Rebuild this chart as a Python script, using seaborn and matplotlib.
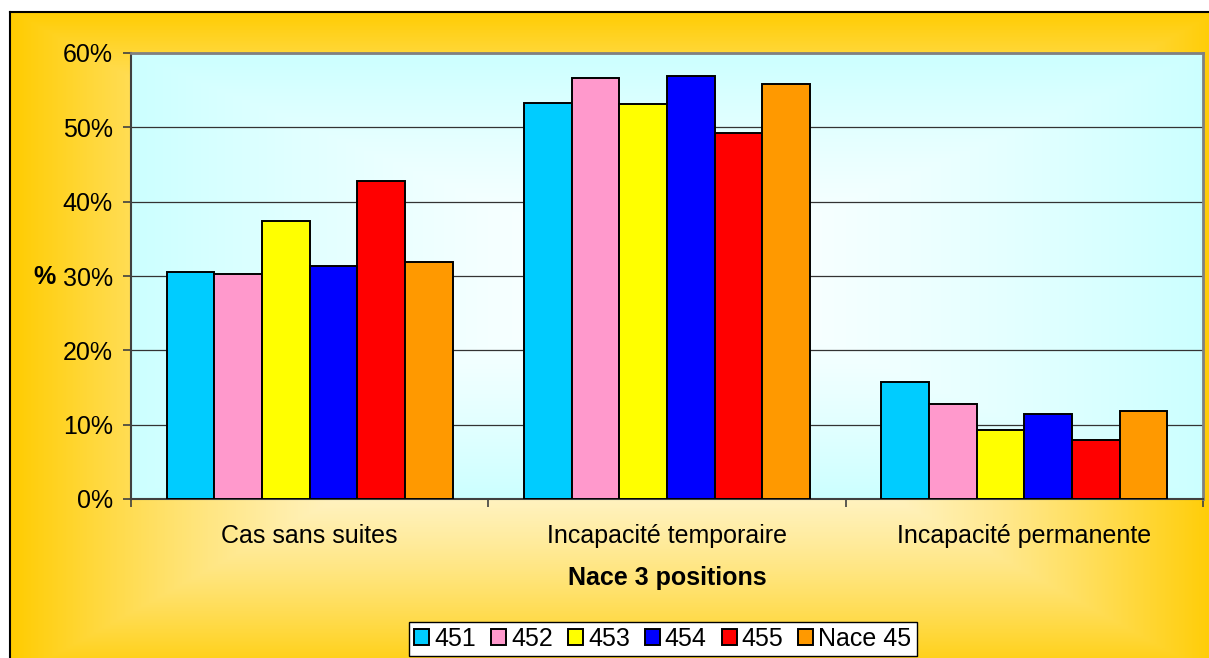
import numpy as np
import pandas as pd
import matplotlib
matplotlib.use("Agg")
import matplotlib.pyplot as plt
from matplotlib.patches import Patch
import seaborn as sns

sns.set_theme(style="white")
plt.rcParams["font.family"] = ["Liberation Sans", "DejaVu Sans"]
plt.rcParams["text.color"] = "black"
plt.rcParams["xtick.color"] = "black"
plt.rcParams["ytick.color"] = "black"

# Data (% of cases by consequence, per NACE 3-digit position)
categories = ["Cas sans suites", "Incapacité temporaire", "Incapacité permanente"]
series = ["451", "452", "453", "454", "455", "Nace 45"]
v451 = [30.6, 53.3, 15.7]
v452 = [30.3, 56.6, 12.8]
v453 = [37.4, 53.1, 9.3]
v454 = [31.4, 56.9, 11.4]
v455 = [42.8, 49.2, 7.9]
vnace45 = [31.9, 55.8, 11.8]
colors = ["#00CCFF", "#FF99CC", "#FFFF00", "#0000FF", "#FF0000", "#FF9900"]
ytick_values = [0, 10, 20, 30, 40, 50, 60]

values = [v451, v452, v453, v454, v455, vnace45]
df = pd.DataFrame(
    [(cat, s, vals[i]) for s, vals in zip(series, values) for i, cat in enumerate(categories)],
    columns=["categorie", "code", "pct"],
)

FS = 18
W, H = 1209, 658
fig = plt.figure(figsize=(W / 100, H / 100), dpi=100)
fig.patch.set_facecolor("white")

# Chart-area background: gold, lightening towards the centre
bg = fig.add_axes([10 / W, 0, 1 - 10 / W, 1 - 12 / H], zorder=0)
xs = np.linspace(10, W, 600)
ys = np.linspace(12, H, 330)
X, Y = np.meshgrid(xs, ys)
t = np.maximum(np.abs(X - 615) / 605, np.abs(Y - 345) / 335)
f = np.clip(t, 0, 1) ** 1.8
white = np.array([1.0, 1.0, 1.0])
gold = np.array([255, 204, 0]) / 255
img = white[None, None, :] * (1 - f[..., None]) + gold[None, None, :] * f[..., None]
bg.imshow(img, extent=(0, 1, 0, 1), aspect="auto", origin="upper")
bg.set_xlim(0, 1)
bg.set_ylim(0, 1)
bg.set_xticks([])
bg.set_yticks([])
for side in ["right", "bottom"]:
    bg.spines[side].set_visible(False)
for side in ["left", "top"]:
    bg.spines[side].set_color("black")
    bg.spines[side].set_linewidth(1.5)

# Plot area
ax = fig.add_axes([131 / W, 1 - 499 / H, (1203 - 131) / W, (499 - 53) / H], zorder=1)
u = np.linspace(-1, 1, 400)
v = np.linspace(-1, 1, 200)
U, V = np.meshgrid(u, v)
t2 = np.maximum(np.abs(U), np.abs(V))
f2 = t2 ** 1.4
cyan = np.array([204, 255, 255]) / 255
img2 = white[None, None, :] * (1 - f2[..., None]) + cyan[None, None, :] * f2[..., None]
ax.imshow(img2, extent=(-0.5, 2.5, 0, 60), aspect="auto", zorder=0)

sns.barplot(
    data=df, x="categorie", y="pct", hue="code",
    order=categories, hue_order=series, palette=colors, saturation=1,
    edgecolor="black", linewidth=1.4, width=0.8, ax=ax, zorder=3,
)
if ax.get_legend() is not None:
    ax.get_legend().remove()

ax.set_xlim(-0.5, 2.5)
ax.set_ylim(0, 60)
ax.set_axisbelow(True)
ax.yaxis.grid(True, color="#333333", linewidth=0.9)
ax.xaxis.grid(False)
ax.set_yticks(ytick_values)
ax.set_yticklabels([f"{y}%" for y in ytick_values])
ax.set_xticks(range(len(categories)))
ax.set_xticklabels(categories)
ax.set_xticks([-0.5, 0.5, 1.5, 2.5], minor=True)
ax.tick_params(axis="x", which="major", length=0, pad=18, labelsize=FS, labelcolor="black")
ax.tick_params(axis="x", which="minor", length=6, width=1.2, direction="out",
               color="#404040", bottom=True)
ax.tick_params(axis="y", which="major", length=6, width=1.2, direction="out",
               color="#404040", pad=7, labelsize=FS, labelcolor="black", left=True)
ax.set_xlabel("")
ax.set_ylabel("")
for side in ["left", "bottom"]:
    ax.spines[side].set_color("#404040")
    ax.spines[side].set_linewidth(1.5)
for side in ["top", "right"]:
    ax.spines[side].set_color("#808080")
    ax.spines[side].set_linewidth(2)

fig.text(44 / W, 1 - 277 / H, "%", fontsize=FS, fontweight="bold",
         ha="center", va="center", color="black")
fig.text(667 / W, 1 - 578 / H, "Nace 3 positions", fontsize=FS,
         fontweight="bold", ha="center", va="center", color="black")

handles = [Patch(facecolor=c, edgecolor="black", linewidth=1.4) for c in colors]
leg = fig.legend(
    handles, series, loc="center", bbox_to_anchor=(663 / W, 1 - 639 / H),
    ncol=6, fontsize=FS, frameon=True, fancybox=False, framealpha=1,
    edgecolor="black", facecolor="white", handlelength=0.6, handleheight=0.6,
    handletextpad=0.2, columnspacing=0.6, borderpad=0.2, borderaxespad=0,
)
leg.get_frame().set_linewidth(1.0)
for txt in leg.get_texts():
    txt.set_color("black")
leg.set_zorder(5)

fig.savefig("out.png", dpi=100)
